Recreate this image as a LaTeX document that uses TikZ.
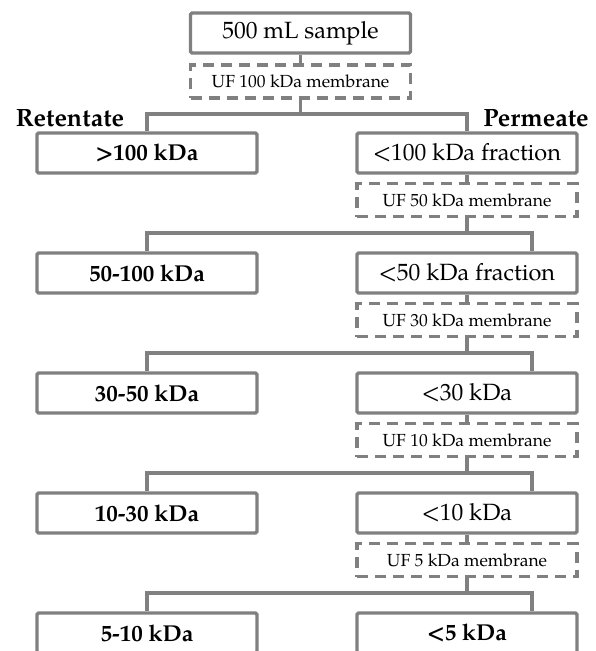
\documentclass[tikz,border=0pt]{standalone}
\usepackage{fontspec}
\setmainfont{TeX Gyre Pagella}
\usetikzlibrary{positioning}
\definecolor{linegray}{RGB}{128,128,128}
\tikzset{
  fbox/.style={draw=linegray, line width=3.2pt, rounded corners=1.5pt, fill=white,
    minimum width=220pt, minimum height=40pt, inner sep=0pt,
    font=\fontsize{23.5}{25}\selectfont},
  fboxb/.style={fbox, font=\fontsize{23}{25}\selectfont\bfseries},
  mbox/.style={draw=linegray, line width=3.2pt, dash pattern=on 11pt off 7pt,
    fill=white, minimum width=220pt, minimum height=33pt, inner sep=0pt,
    font=\fontsize{17.5}{19}\selectfont},
  conn/.style={draw=linegray, line width=3.2pt},
  side/.style={font=\fontsize{25}{27}\selectfont\bfseries, inner sep=0pt}
}
\begin{document}
\begin{tikzpicture}[x=1pt,y=-1pt]
\useasboundingbox (0,0) rectangle (595,651);
\clip (0,0) rectangle (595,651);
% nodes
\node[fbox] (top) at (300.5,33) {500 mL sample};
\node[mbox] (uf100) at (300.5,81.5) {UF 100 kDa membrane};
\node[side] (ret) at (70,118) {Retentate};
\node[side] (per) at (536,118) {Permeate};
\node[fboxb] (L1) at (147,153) {>100 kDa};
\node[fbox] (R1) at (467,153) {<100 kDa fraction};
\node[mbox] (uf50) at (467,200) {UF 50 kDa membrane};
\node[fboxb] (L2) at (147,273) {50-100 kDa};
\node[fbox] (R2) at (467,273) {<50 kDa fraction};
\node[mbox] (uf30) at (467,320) {UF 30 kDa membrane};
\node[fboxb] (L3) at (147,393) {30-50 kDa};
\node[fbox] (R3) at (467,393) {<30 kDa};
\node[mbox] (uf10) at (467,440) {UF 10 kDa membrane};
\node[fboxb] (L4) at (147,513) {10-30 kDa};
\node[fbox] (R4) at (467,513) {<10 kDa};
\node[mbox] (uf5) at (467,560) {UF 5 kDa membrane};
\node[fboxb] (L5) at (147,633) {5-10 kDa};
\node[fboxb] (R5) at (467,633) {<5 kDa};
% branch points
\coordinate (b0) at (300.5,114);
\coordinate (b1) at (467,233);
\coordinate (b2) at (467,353);
\coordinate (b3) at (467,473);
\coordinate (b4) at (467,593);
% connectors
\draw[conn] (top.south) -- (uf100.north);
\draw[conn] (uf100.south) -- (b0);
\draw[conn] (L1.north) |- (b0) -| (R1.north);
\draw[conn] (R1.south) -- (uf50.north);
\draw[conn] (uf50.south) -- (b1);
\draw[conn] (L2.north) |- (b1) -| ([xshift=65pt]R2.north);
\draw[conn] (R2.south) -- (uf30.north);
\draw[conn] (uf30.south) -- (b2);
\draw[conn] (L3.north) |- (b2) -| ([xshift=65pt]R3.north);
\draw[conn] (R3.south) -- (uf10.north);
\draw[conn] (uf10.south) -- (b3);
\draw[conn] (L4.north) |- (b3) -| ([xshift=65pt]R4.north);
\draw[conn] (R4.south) -- (uf5.north);
\draw[conn] (uf5.south) -- (b4);
\draw[conn] (L5.north) |- (b4) -| ([xshift=65pt]R5.north);
\end{tikzpicture}
\end{document}
